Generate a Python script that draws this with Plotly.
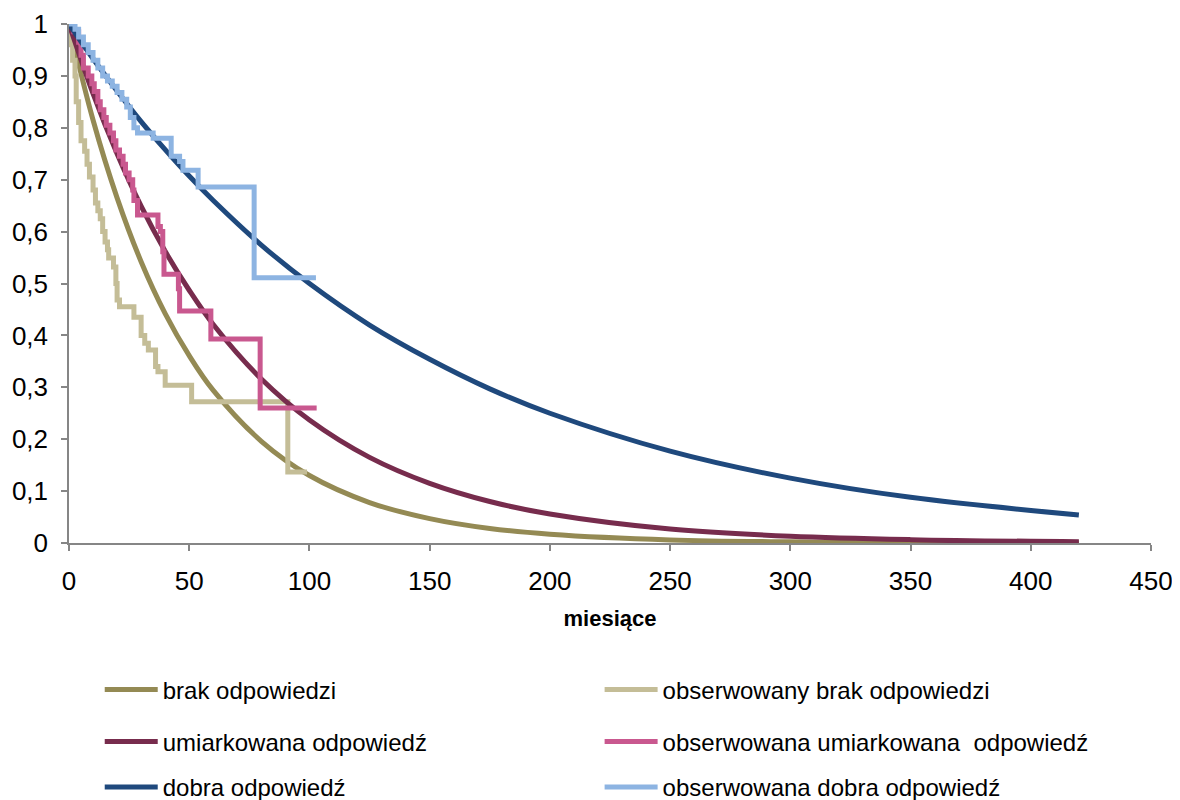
import plotly.graph_objects as go

# Fitted curves (read at selected months)
fit_x = [0, 10, 20, 30, 40, 50, 60, 80, 100, 125, 150, 175, 200, 250, 300, 350, 420]
fit_brak = [1.0, 0.815, 0.665, 0.542, 0.442, 0.361, 0.294, 0.196, 0.130, 0.078, 0.047, 0.028, 0.017, 0.006, 0.0022, 0.0008, 0.0002]
fit_umiark = [1.0, 0.866, 0.750, 0.649, 0.562, 0.487, 0.421, 0.316, 0.237, 0.165, 0.115, 0.080, 0.056, 0.027, 0.013, 0.0065, 0.0024]
fit_dobra = [1.0, 0.933, 0.871, 0.812, 0.758, 0.707, 0.660, 0.574, 0.500, 0.420, 0.354, 0.297, 0.250, 0.177, 0.125, 0.088, 0.054]

# Observed (Kaplan-Meier style steps)
obs_brak_t = [0, 1, 1.5, 2.5, 3, 4, 5, 6.5, 7.5, 8.5, 10, 11, 12, 13, 14, 15, 16, 16.5, 18.5, 19.5, 20, 21, 27, 30, 31.5, 33, 36, 37, 40, 51, 91, 99]
obs_brak_s = [1.0, 0.96, 0.93, 0.90, 0.85, 0.81, 0.775, 0.755, 0.73, 0.705, 0.68, 0.655, 0.64, 0.625, 0.60, 0.58, 0.565, 0.549, 0.532, 0.50, 0.468, 0.455, 0.435, 0.40, 0.385, 0.372, 0.34, 0.33, 0.304, 0.272, 0.137, 0.137]

obs_umiark_t = [0, 2, 4, 5, 6, 8, 9.5, 10.5, 12, 13, 14.5, 15.5, 17, 18.5, 19.5, 21, 22.5, 23.5, 25, 26.5, 27, 28.5, 37, 38, 39, 39.5, 45.5, 46, 59, 79.5, 103]
obs_umiark_s = [1.0, 0.985, 0.965, 0.94, 0.915, 0.90, 0.885, 0.87, 0.85, 0.835, 0.82, 0.805, 0.79, 0.775, 0.757, 0.745, 0.73, 0.713, 0.70, 0.68, 0.66, 0.632, 0.61, 0.60, 0.561, 0.518, 0.49, 0.447, 0.393, 0.26, 0.26]

obs_dobra_t = [0, 2.5, 4, 6, 8, 10, 12, 14, 16, 18, 20, 22, 24, 25.5, 27, 28.5, 35, 42.5, 46, 47.4, 53.7, 77, 102.7]
obs_dobra_s = [1.0, 0.99, 0.975, 0.96, 0.945, 0.93, 0.915, 0.90, 0.89, 0.88, 0.868, 0.855, 0.84, 0.82, 0.80, 0.79, 0.78, 0.745, 0.735, 0.718, 0.686, 0.511, 0.511]

x_ticks = [0, 50, 100, 150, 200, 250, 300, 350, 400, 450]
y_ticks = [0, 0.1, 0.2, 0.3, 0.4, 0.5, 0.6, 0.7, 0.8, 0.9, 1]

names = ["brak odpowiedzi", "obserwowany brak odpowiedzi",
         "umiarkowana odpowiedź", "obserwowana umiarkowana  odpowiedź",
         "dobra odpowiedź", "obserwowana dobra odpowiedź"]
colors = ["#948A54", "#C4BD97", "#772C4D", "#C9588F", "#1F497D", "#8DB4E2"]

FONT = "Liberation Sans, Arial, sans-serif"

fig = go.Figure()
series = [
    (fit_x, fit_brak, "spline"),
    (obs_brak_t, obs_brak_s, "hv"),
    (fit_x, fit_umiark, "spline"),
    (obs_umiark_t, obs_umiark_s, "hv"),
    (fit_x, fit_dobra, "spline"),
    (obs_dobra_t, obs_dobra_s, "hv"),
]
legend_ids = ["legend", "legend2", "legend3", "legend4", "legend5", "legend6"]
for (xs, ys, shape), nm, col, lg in zip(series, names, colors, legend_ids):
    fig.add_trace(go.Scatter(
        x=xs, y=ys, mode="lines", name=nm, legend=lg, showlegend=True,
        line=dict(color=col, width=5, shape=shape),
        hoverinfo="skip",
    ))

axis_col = "#868686"
legend_common = dict(orientation="h", xanchor="left", yanchor="middle",
                     font=dict(family=FONT, size=24, color="#000000"),
                     bgcolor="rgba(0,0,0,0)", itemwidth=53)

col_x = [0.0284, 0.4904]
row_y = [-0.283, -0.383, -0.471]
legend_layout = {}
for i, lg in enumerate(legend_ids):
    legend_layout[lg] = dict(x=col_x[i % 2], y=row_y[i // 2], **legend_common)

fig.update_layout(
    width=1180, height=800,
    margin=dict(l=61, r=37, t=16, b=265, autoexpand=False),
    showlegend=True,
    paper_bgcolor="white", plot_bgcolor="white",
    separators=", ",
    font=dict(family=FONT, size=22, color="#000000"),
    xaxis=dict(range=[0, 450], tickvals=x_ticks, showgrid=False, zeroline=False,
               showline=True, linecolor=axis_col, linewidth=1.5,
               ticks="outside", tickcolor=axis_col, ticklen=6, tickwidth=1.5,
               tickfont=dict(family=FONT, size=26), ticklabelstandoff=8,
               title=dict(text="<b>miesiące</b>", font=dict(family=FONT, size=22), standoff=16)),
    yaxis=dict(range=[0, 1], tickvals=y_ticks, showgrid=False, zeroline=False,
               showline=True, linecolor=axis_col, linewidth=1.5,
               ticks="outside", tickcolor=axis_col, ticklen=6, tickwidth=1.5,
               tickfont=dict(family=FONT, size=26),
               ticklabelstandoff=8),
    **legend_layout,
)

fig.write_html("out.html")
